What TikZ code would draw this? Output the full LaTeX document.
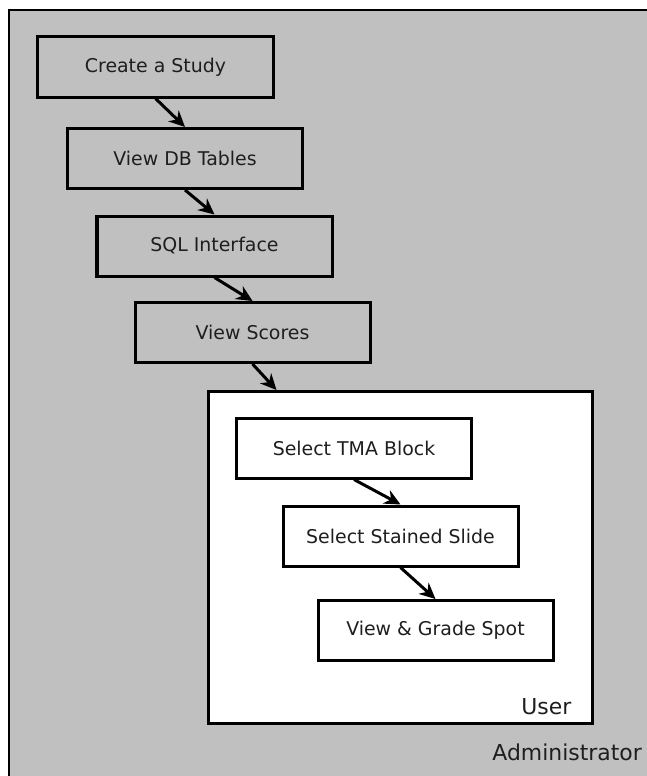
\documentclass[tikz,border=0pt]{standalone}
\usepackage{fontspec}
\setmainfont{DejaVu Sans}
\usetikzlibrary{arrows.meta}
\definecolor{admingray}{RGB}{192,192,192}
\definecolor{inkgray}{RGB}{30,30,30}
\begin{document}
\begin{tikzpicture}[
  x=1bp, y=-1bp,
  stepbox/.style={rectangle, draw, line width=3bp, minimum width=235bp, minimum height=60bp, inner sep=0pt, font=\fontsize{19}{22}\selectfont, text=inkgray},
  rolebox/.style={rectangle, draw, line width=3bp, fill=white, inner sep=0pt},
  rolelabel/.style={font=\fontsize{22}{25}\selectfont, text=inkgray, inner sep=0pt},
  flow/.style={-{Stealth[length=16bp, width=15bp]}, line width=3bp}
]
\clip (0,0) rectangle (647,776);

% Administrator area
\draw[line width=2.2bp, fill=admingray] (9,10) rectangle (700,820);

% Administrator steps
\node[stepbox] (study) at (155.5, 67) {Create a Study};
\node[stepbox] (tables) at (185, 158.5) {View DB Tables};
\node[stepbox] (sql) at (214.5, 246) {SQL Interface};
\node[stepbox] (scores) at (252.5, 332.5) {View Scores};

% User area
\node[rolebox, minimum width=384bp, minimum height=332bp] (userbox) at (400, 557.5) {};
\coordinate (userin) at ([xshift=70bp]userbox.north west);

% User steps
\node[stepbox, fill=white] (tma) at (354, 448) {Select TMA Block};
\node[stepbox, fill=white] (slide) at (400.5, 536) {Select Stained Slide};
\node[stepbox, fill=white] (grade) at (435.5, 630.5) {View \& Grade Spot};

% Flow
\draw[flow] (study.south) -- (tables.north);
\draw[flow] (tables.south) -- (sql.north);
\draw[flow] (sql.south) -- (scores.north);
\draw[flow] (scores.south) -- (userin);
\draw[flow] (tma.south) -- (slide.north);
\draw[flow] (slide.south) -- (grade.north);

% Labels
\node[rolelabel, anchor=base east] (userlbl) at ([xshift=-22bp, yshift=11bp]userbox.south east) {User};
\node[rolelabel, anchor=base east] (adminlbl) at (642, 760) {Administrator};

\end{tikzpicture}
\end{document}
